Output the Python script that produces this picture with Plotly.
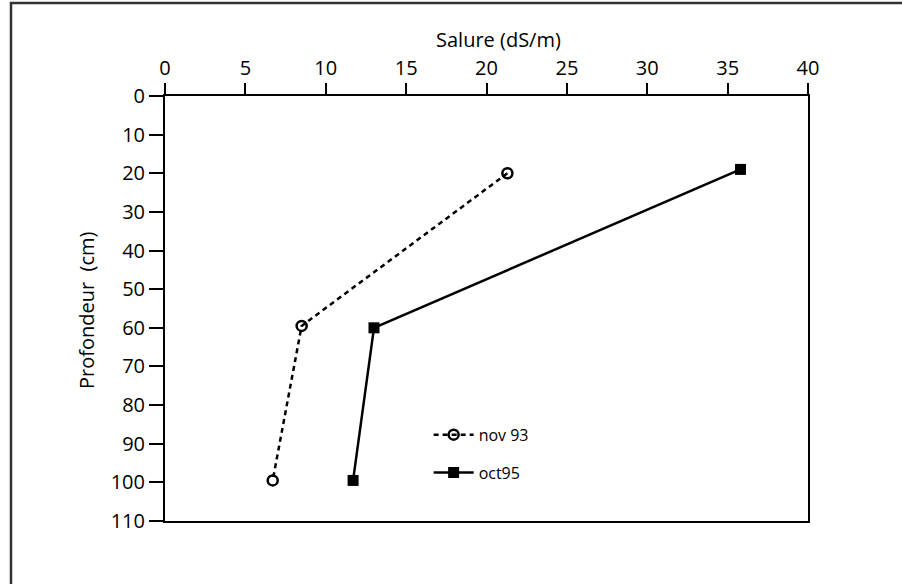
import plotly.graph_objects as go

# Salinity profiles (dS/m) against depth (cm)
nov93_salure = [21.3, 8.5, 6.7]
nov93_profondeur = [20, 59.5, 99.5]
oct95_salure = [35.8, 13.0, 11.7]
oct95_profondeur = [19, 60, 99.5]

x_ticks = [0, 5, 10, 15, 20, 25, 30, 35, 40]
y_ticks = [0, 10, 20, 30, 40, 50, 60, 70, 80, 90, 100, 110]

FONT = "Open Sans"

fig = go.Figure()
fig.add_trace(go.Scatter(
    x=nov93_salure, y=nov93_profondeur, name="nov 93", mode="lines+markers",
    legendgroup="a",
    line=dict(color="black", width=2.5, dash="5px,4px"),
    marker=dict(symbol="circle-open", size=10, color="black", line=dict(width=2.5)),
))
fig.add_trace(go.Scatter(
    x=oct95_salure, y=oct95_profondeur, name="oct95", mode="lines+markers",
    legendgroup="b",
    line=dict(color="black", width=2.5),
    marker=dict(symbol="square", size=11, color="black"),
))

axis_common = dict(
    showline=True, linecolor="black", linewidth=2, mirror=True,
    ticks="outside", tickcolor="black", tickwidth=2,
    showgrid=False, zeroline=False,
    tickfont=dict(family=FONT, size=20, color="black"),
)

fig.update_layout(
    width=902, height=584,
    margin=dict(l=165, r=94, t=96, b=63),
    paper_bgcolor="white", plot_bgcolor="white",
    font=dict(family=FONT, color="black"),
    showlegend=True,
    legend=dict(
        x=0.41, y=0.243, xanchor="left", yanchor="top",
        bgcolor="rgba(0,0,0,0)", font=dict(family=FONT, size=16, color="black"),
        itemwidth=40, tracegroupgap=14,
    ),
    xaxis=dict(side="top", range=[0, 40], tickvals=x_ticks, ticklen=11, **axis_common),
    yaxis=dict(range=[110, 0], tickvals=y_ticks, ticklen=14, **axis_common),
    annotations=[
        dict(text="Salure (dS/m)", xref="paper", yref="paper",
             x=(498 - 165) / 643, y=1 + (96 - 40) / 425,
             xanchor="center", yanchor="middle", showarrow=False,
             font=dict(family=FONT, size=20, color="black")),
        dict(text="Profondeur\u00a0 (cm)", xref="paper", yref="paper",
             x=(86 - 165) / 643, y=(521 - 310) / 425, textangle=-90,
             xanchor="center", yanchor="middle", showarrow=False,
             font=dict(family=FONT, size=20, color="black")),
    ],
    shapes=[dict(
        type="rect", xref="paper", yref="paper",
        x0=(11 - 165) / 643, x1=1.2, y0=-0.2, y1=1 + (96 - 3) / 425,
        line=dict(color="#333333", width=2.5), layer="below",
    )],
)

fig.write_html("out.html")
